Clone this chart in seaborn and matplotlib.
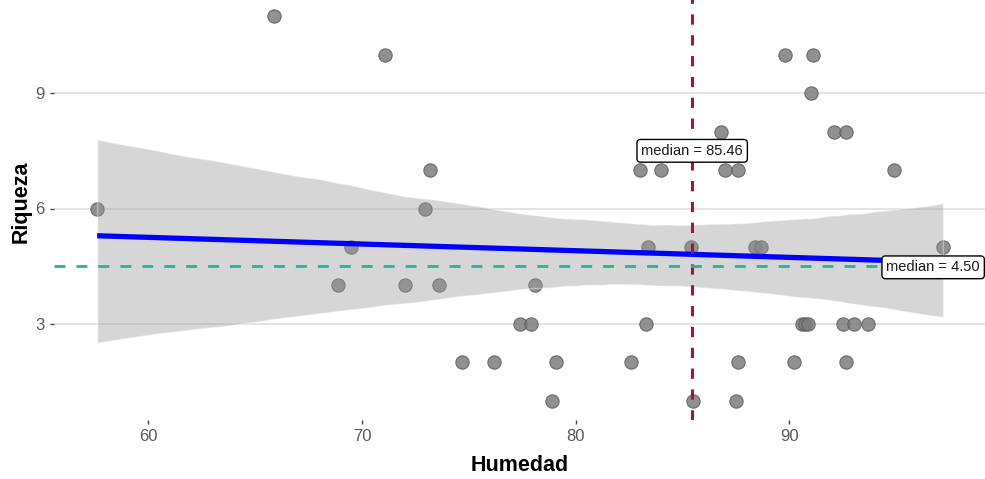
import matplotlib
matplotlib.use("Agg")
import matplotlib.pyplot as plt
import seaborn as sns
import pandas as pd
import numpy as np

# ---- data ----
humedad = [65.9, 71.1, 89.8, 91.1, 91.0, 86.8, 92.1, 92.65,
           73.2, 83.0, 84.0, 87.0, 87.6, 94.9, 57.6, 72.95,
           69.5, 83.4, 85.4, 88.4, 88.7, 97.2, 68.9, 72.0,
           73.6, 78.1, 77.4, 77.9, 83.3, 90.6, 90.75, 90.9,
           92.5, 93.05, 93.7, 74.7, 76.2, 79.1, 82.6, 87.6,
           90.25, 92.65, 78.9, 85.5, 87.5]
riqueza = [11, 10, 10, 10, 9, 8, 8, 8,
           7, 7, 7, 7, 7, 7, 6, 6,
           5, 5, 5, 5, 5, 5, 4, 4,
           4, 4, 3, 3, 3, 3, 3, 3,
           3, 3, 3, 2, 2, 2, 2, 2,
           2, 2, 1, 1, 1]
median_x = 85.46
median_y = 4.50
x_ticks = [60, 70, 80, 90]
y_ticks = [3, 6, 9]
x_title = "Humedad"
y_title = "Riqueza"

df = pd.DataFrame({"Humedad": humedad, "Riqueza": riqueza})

sns.set_theme(style="whitegrid")
plt.rcParams["font.family"] = ["Liberation Sans", "DejaVu Sans"]
plt.rcParams["lines.scale_dashes"] = False

fig = plt.figure(figsize=(9.85, 4.79), dpi=100)
ax = fig.add_axes([54 / 985, 59 / 479, 931 / 985, 423 / 479])

# points
sns.scatterplot(data=df, x="Humedad", y="Riqueza", ax=ax, s=92,
                color="#7d7d7d", edgecolor="#5e5e5e", linewidth=0.8,
                alpha=0.85, zorder=2, legend=False)

# linear fit with confidence band
sns.regplot(data=df, x="Humedad", y="Riqueza", ax=ax, scatter=False,
            color="#0000ff", ci=95, seed=7,
            line_kws={"linewidth": 3.8, "zorder": 4, "solid_capstyle": "butt"})
for coll in ax.collections[1:]:
    coll.set_facecolor("#999999")
    coll.set_alpha(0.4)
    coll.set_zorder(3)

# median reference lines
ax.axvline(median_x, color="#A0144C", linewidth=2.2, dashes=(7.4, 7.6),
           dash_capstyle="butt", zorder=5)
ax.axhline(median_y, color="#2BB09A", linewidth=2.0, dashes=(7.9, 7.9),
           dash_capstyle="butt", zorder=5)

box = dict(boxstyle="round,pad=0.3,rounding_size=0.25", facecolor="white",
           edgecolor="black", linewidth=1.0)
ax.text(median_x, 7.5, f"median = {median_x:.2f}", ha="center", va="center",
        fontsize=10.5, color="#1a1a1a", bbox=box, zorder=7)
ax.text(94.55, 4.47, f"median = {median_y:.2f}", ha="left", va="center",
        fontsize=10.5, color="#1a1a1a", bbox=box, zorder=7, clip_on=False)

# axes styling
ax.set_xlim(55.58, 99.17)
ax.set_ylim(0.5, 11.5)
ax.set_xticks(x_ticks)
ax.set_yticks(y_ticks)
ax.grid(False)
ax.yaxis.grid(True, color="#dcdcdc", linewidth=1.1)
ax.set_axisbelow(True)
for sp in ax.spines.values():
    sp.set_visible(False)
ax.set_facecolor("white")
ax.tick_params(axis="both", which="major", length=3, width=1.0,
               color="#444444", labelcolor="#5a5a5a", labelsize=12)
ax.tick_params(axis="x", pad=3.5)
ax.tick_params(axis="y", pad=4)
ax.xaxis.set_ticks_position("bottom")
ax.yaxis.set_ticks_position("left")

ax.set_xlabel(x_title, fontsize=15.5, fontweight="bold", color="black")
ax.set_ylabel(y_title, fontsize=15.5, fontweight="bold", color="black")
ax.xaxis.set_label_coords(0.5, -0.083)
ax.yaxis.set_label_coords(-0.024, 0.515)

fig.savefig("out.png", dpi=100, facecolor="white")
